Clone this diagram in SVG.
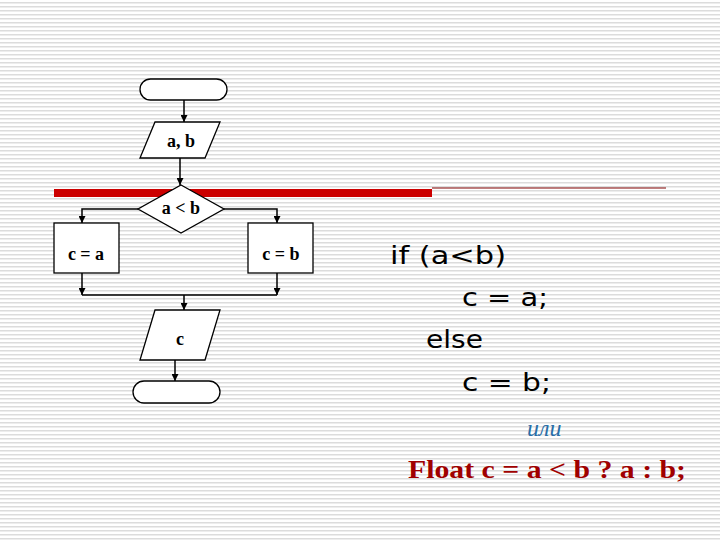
<svg xmlns="http://www.w3.org/2000/svg" width="720" height="540" viewBox="0 0 720 540">
<defs>
<pattern id="stripes" width="4" height="4" patternUnits="userSpaceOnUse"><rect width="4" height="4" fill="#ffffff"/><rect y="2" width="4" height="1.5" fill="#dcdcdc"/></pattern>
<marker id="ar" viewBox="0 0 10 10" refX="10" refY="5" markerWidth="7" markerHeight="7" markerUnits="userSpaceOnUse" orient="auto"><path d="M0,0 L10,5 L0,10 z" fill="#000"/></marker>
</defs>
<style>
.s{fill:#fff;stroke:#000;stroke-width:1.3}
.l{fill:none;stroke:#000;stroke-width:1.5}
.t{font-family:"Liberation Serif",serif;font-weight:bold;font-size:18px;text-anchor:middle;fill:#000}
.c{font-family:"DejaVu Sans",Verdana,sans-serif;font-size:25px;fill:#000}
</style>
<rect width="720" height="540" fill="url(#stripes)"/>
<rect x="54" y="189" width="378" height="8" fill="#cc0000"/>
<line x1="432" y1="188" x2="666" y2="188" stroke="#800000" stroke-width="1"/>
<g id="connectors">
<path class="l" d="M184,100 V122" marker-end="url(#ar)"/>
<path class="l" d="M180,158 V185" marker-end="url(#ar)"/>
<path class="l" d="M138,209 H82 V223" marker-end="url(#ar)"/>
<path class="l" d="M224,209 H277 V223" marker-end="url(#ar)"/>
<path class="l" d="M82,273 V295" marker-end="url(#ar)"/>
<path class="l" d="M277,273 V295" marker-end="url(#ar)"/>
<path class="l" d="M82,295 H277"/>
<path class="l" d="M184,295 V310" marker-end="url(#ar)"/>
<path class="l" d="M175,360 V381" marker-end="url(#ar)"/>
</g>
<g id="start"><rect class="s" x="140" y="79" width="87" height="21" rx="10.5"/></g>
<g id="input"><polygon class="s" points="155,122 220,122 205,158 140,158"/><text class="t" x="181" y="147" font-size="16">a, b</text></g>
<g id="decision"><polygon class="s" points="181,185 224,209 181,233 138,209"/><text class="t" x="181" y="214" font-size="14">a &lt; b</text></g>
<g id="ca"><rect class="s" x="54" y="223" width="65" height="50"/><text class="t" x="86" y="260">c = a</text></g>
<g id="cb"><rect class="s" x="248" y="223" width="65" height="50"/><text class="t" x="281" y="260">c = b</text></g>
<g id="output"><polygon class="s" points="155,310 220,310 205,360 140,360"/><text class="t" x="180" y="345" font-size="17">c</text></g>
<g id="end"><rect class="s" x="133" y="381" width="87" height="22" rx="11"/></g>
<text class="c" x="390" y="264" textLength="116" lengthAdjust="spacingAndGlyphs">if (a&lt;b)</text>
<text class="c" x="462" y="306" textLength="86" lengthAdjust="spacingAndGlyphs">c = a;</text>
<text class="c" x="426" y="348" textLength="57" lengthAdjust="spacingAndGlyphs">else</text>
<text class="c" x="462" y="391" textLength="89" lengthAdjust="spacingAndGlyphs">c = b;</text>
<text x="527" y="436" font-family="Liberation Serif,serif" font-style="italic" font-size="24" fill="#2a6fa8">или</text>
<text x="408" y="478" font-family="Liberation Serif,serif" font-weight="bold" font-size="25" fill="#a00000" textLength="278" lengthAdjust="spacingAndGlyphs">Float c = a &lt; b ? a : b;</text>
</svg>
